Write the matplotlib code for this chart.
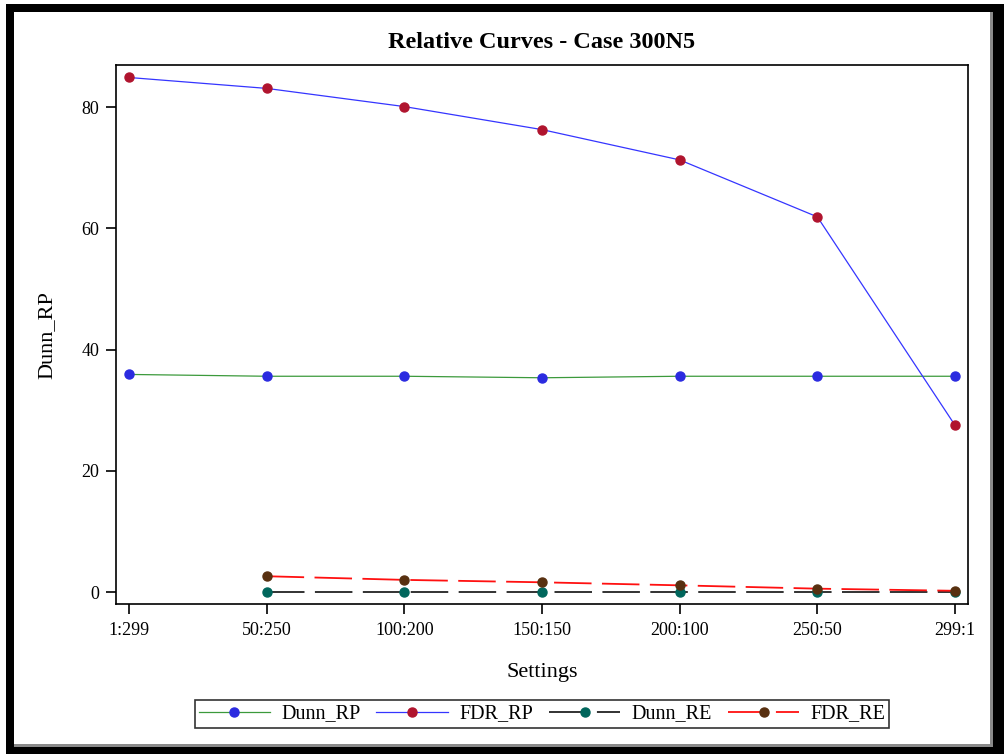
import matplotlib
matplotlib.use("Agg")
import matplotlib.pyplot as plt
import numpy as np
from matplotlib.patches import Rectangle

plt.rcParams['font.family'] = ['Liberation Serif', 'DejaVu Serif']
plt.rcParams['lines.scale_dashes'] = False

# ---- data ----
settings = ["1:299", "50:250", "100:200", "150:150", "200:100", "250:50", "299:1"]
dunn_rp = [35.9, 35.6, 35.6, 35.35, 35.6, 35.6, 35.6]
fdr_rp = [84.9, 83.1, 80.1, 76.3, 71.3, 61.9, 27.5]
dunn_re = [np.nan, 0.0, 0.0, 0.0, 0.0, 0.0, 0.0]
fdr_re = [np.nan, 2.6, 2.0, 1.6, 1.1, 0.55, 0.2]
yticks = [0, 20, 40, 60, 80]

W, H = 1008, 755
fig = plt.figure(figsize=(W / 100, H / 100), dpi=100)

def fx(px):
    return px / W

def fy(py):
    return 1 - py / H

ax = fig.add_axes([fx(116), fy(604), fx(968) - fx(116), fy(65) - fy(604)])
x = np.arange(len(settings))

ms = 6.5
ax.plot(x, dunn_rp, color='#3c9a3c', lw=0.9, marker='o', ms=ms,
        mfc='#2b2be0', mec='#2b2be0', label='Dunn_RP', zorder=3)
ax.plot(x, fdr_rp, color='#3535ff', lw=0.9, marker='o', ms=ms,
        mfc='#b0142e', mec='#b0142e', label='FDR_RP', zorder=3)
ax.plot(x, dunn_re, color='#222222', lw=1.3, marker='o', ms=ms,
        mfc='#00665c', mec='#00665c', label='Dunn_RE', zorder=3,
        dashes=(27, 7.5))
ax.plot(x, fdr_re, color='#ff1010', lw=1.3, marker='o', ms=ms,
        mfc='#583010', mec='#583010', label='FDR_RE', zorder=4,
        dashes=(27, 7.5))

ax.set_xlim(-0.094, 6.094)
ax.set_ylim(-1.98, 86.96)
ax.set_xticks(x)
ax.set_xticklabels(settings)
ax.set_yticks(yticks)
ax.tick_params(axis='both', direction='out', length=7, width=1.2,
               labelsize=13, colors='black')
ax.tick_params(axis='x', pad=6)
ax.tick_params(axis='y', pad=5)
for s in ax.spines.values():
    s.set_linewidth(1.2)
    s.set_color('black')

fig.text(fx(542), fy(43), "Relative Curves - Case 300N5", ha='center',
         va='center', fontsize=17.5, fontweight='bold')
fig.text(fx(542), fy(672), "Settings", ha='center', va='center', fontsize=16)
fig.text(fx(47), fy(335), "Dunn_RP", ha='center', va='center',
         fontsize=16, rotation=90)

handles, labels = ax.get_legend_handles_labels()
leg = fig.legend(handles, labels, loc='center', ncol=4,
                 bbox_to_anchor=(fx(542), fy(714)), frameon=True,
                 fancybox=False, edgecolor='black', fontsize=14.5,
                 handlelength=3.55, columnspacing=0.8, handletextpad=0.55,
                 borderpad=0.2, borderaxespad=0)
leg.get_frame().set_linewidth(1.2)

# figure frame
def rect(x0, y0, x1, y1, color):
    fig.patches.append(Rectangle((fx(x0), fy(y1)), fx(x1) - fx(x0),
                                 fy(y0) - fy(y1), transform=fig.transFigure,
                                 facecolor=color, edgecolor='none', zorder=10))

rect(6, 4, 1004, 12, 'black')      # top
rect(6, 4, 14, 754, 'black')       # left
rect(993, 4, 1004, 754, 'black')   # right
rect(6, 747, 1004, 754, 'black')   # bottom
rect(990, 12, 993, 747, '#8a8a8a')
rect(14, 744, 993, 747, '#8a8a8a')

fig.savefig("out.png", dpi=100)
